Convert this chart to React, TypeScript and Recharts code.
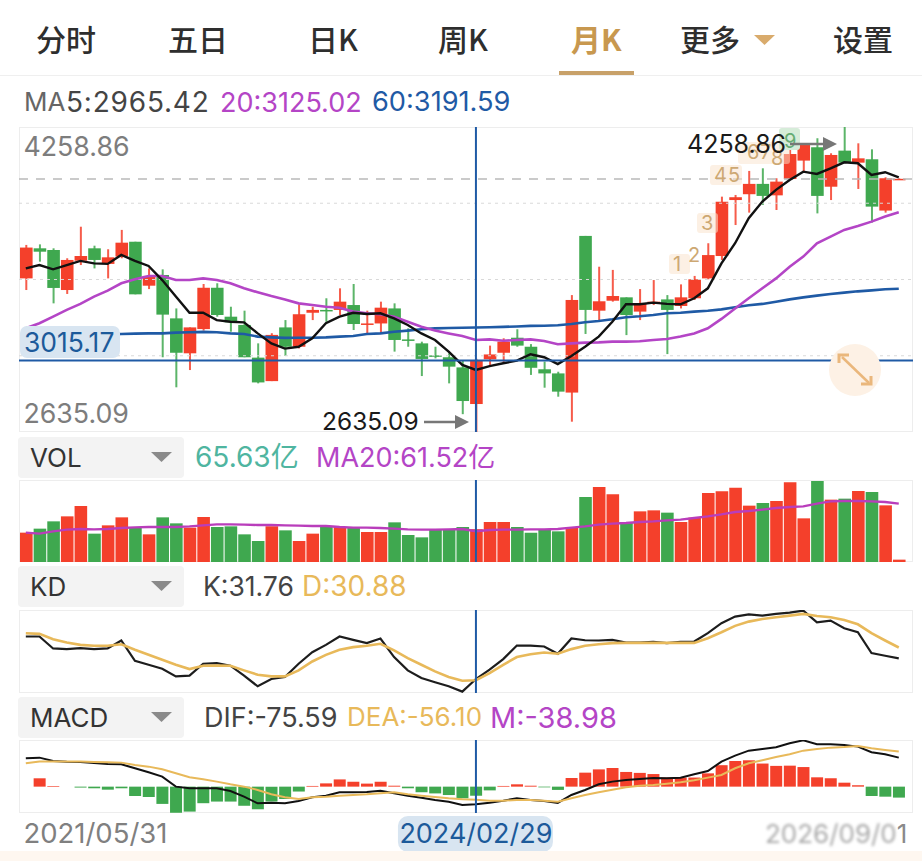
import React from "react";
import { Bar, Cell, ComposedChart, Line, ReferenceLine, XAxis, YAxis } from "recharts";

const UP = "#f4402b";
const DOWN = "#3fa84f";
const MAGENTA = "#b445c6";
const BLUE = "#1f5aa5";
const GOLD = "#e8b95a";
const TAN = "#cda873";
const LATIN = "Inter, 'Noto Sans CJK SC', sans-serif";
const CJK = "'Noto Sans CJK SC', sans-serif";

const dates = [
  "2021/05/31", "2021/06/30", "2021/07/30", "2021/08/31", "2021/09/30", "2021/10/29", "2021/11/30", "2021/12/31",
  "2022/01/28", "2022/02/28", "2022/03/31", "2022/04/29", "2022/05/31", "2022/06/30", "2022/07/29", "2022/08/31",
  "2022/09/30", "2022/10/31", "2022/11/30", "2022/12/30", "2023/01/31", "2023/02/28", "2023/03/31", "2023/04/28",
  "2023/05/31", "2023/06/30", "2023/07/31", "2023/08/31", "2023/09/28", "2023/10/31", "2023/11/30", "2023/12/29",
  "2024/01/31", "2024/02/29", "2024/03/29", "2024/04/30", "2024/05/31", "2024/06/28", "2024/07/31", "2024/08/30",
  "2024/09/30", "2024/10/31", "2024/11/29", "2024/12/31", "2025/01/27", "2025/02/28", "2025/03/31", "2025/04/30",
  "2025/05/30", "2025/06/30", "2025/07/31", "2025/08/29", "2025/09/30", "2025/10/31", "2025/11/28", "2025/12/31",
  "2026/01/30", "2026/02/27", "2026/03/31", "2026/04/30", "2026/05/29", "2026/06/30", "2026/07/31", "2026/08/31",
  "2026/09/01",
];

const opens = [
  3453, 3613, 3604, 3391, 3547, 3613, 3530, 3569, 3648, 3414,
  3471, 3240, 3054, 3183, 3403, 3249, 3205, 3031, 2906, 3192,
  3089, 3270, 3285, 3285, 3311, 3208, 3213, 3293, 3128, 3107,
  3043, 3033, 2979, 2784, 3022, 3057, 3137, 3089, 2969, 2947,
  2845, 3679, 3281, 3334, 3352, 3276, 3317, 3341, 3306, 3347,
  3453, 3572, 3870, 3901, 3956, 3895, 3982, 4080, 4151, 3941,
  4133, 4069, 4087, 3814, 3982,
];
const closes = [
  3617, 3595, 3402, 3551, 3572, 3551, 3565, 3643, 3368, 3466,
  3260, 3057, 3192, 3403, 3258, 3219, 3033, 2899, 3152, 3089,
  3262, 3285, 3279, 3329, 3210, 3213, 3297, 3125, 3121, 3024,
  3038, 2983, 2800, 3018, 3048, 3116, 3095, 2977, 2947, 2850,
  3338, 3285, 3331, 3359, 3258, 3317, 3329, 3285, 3352, 3448,
  3577, 3861, 3885, 3956, 3892, 3968, 4115, 4163, 3892, 4110,
  4069, 4092, 3835, 3986, 3983,
];
const highs = [
  3631, 3634, 3613, 3560, 3728, 3627, 3608, 3711, 3648, 3506,
  3501, 3293, 3192, 3423, 3427, 3302, 3281, 3107, 3161, 3231,
  3315, 3302, 3347, 3400, 3423, 3281, 3329, 3320, 3187, 3116,
  3089, 3054, 3018, 3025, 3095, 3134, 3182, 3103, 3010, 2956,
  3364, 3679, 3515, 3498, 3352, 3396, 3444, 3364, 3421, 3466,
  3640, 3888, 3897, 4025, 4039, 3986, 4154, 4163, 4199, 4119,
  4258.86, 4172, 4140, 3991, 3985,
];
const lows = [
  3391, 3542, 3320, 3370, 3524, 3506, 3453, 3560, 3368, 3396,
  3033, 2873, 2965, 3175, 3249, 3169, 3033, 2894, 2906, 3040,
  3080, 3231, 3222, 3258, 3178, 3157, 3160, 3063, 3089, 2933,
  3027, 2894, 2730, 2635.09, 2992, 2999, 3089, 2939, 2871, 2823,
  2690, 3157, 3231, 3329, 3151, 3231, 3311, 3050, 3293, 3338,
  3448, 3551, 3737, 3803, 3844, 3817, 3977, 4021, 3799, 3870,
  4066, 3929, 3750, 3803, 3979,
];

const ma5 = [
  3506, 3524, 3501, 3524, 3546, 3533, 3530, 3578, 3546, 3519,
  3444, 3356, 3270, 3270, 3231, 3222, 3219, 3160, 3107, 3079,
  3089, 3134, 3214, 3249, 3270, 3263, 3267, 3240, 3205, 3160,
  3125, 3063, 2992, 2965.42, 2986, 3001, 3015, 3049, 3033, 2997,
  3040, 3089, 3143, 3222, 3315, 3315, 3324, 3317, 3315, 3347,
  3400, 3533, 3640, 3773, 3862, 3924, 3977, 4021, 4009, 4039,
  4071, 4066, 4004, 4018, 3991,
];
const ma20 = [
  3187, 3214, 3249, 3285, 3317, 3356, 3388, 3427, 3448, 3466,
  3466, 3444, 3444, 3453, 3444, 3427, 3400, 3379, 3359, 3341,
  3320, 3311, 3302, 3297, 3276, 3267, 3262, 3249, 3222, 3196,
  3175, 3160, 3146, 3125.02, 3128, 3121, 3125, 3128, 3120, 3102,
  3107, 3111, 3112, 3116, 3116, 3118, 3125, 3130, 3143, 3160,
  3187, 3237, 3293, 3347, 3400, 3453, 3515, 3569, 3640, 3675,
  3711, 3732, 3755, 3782, 3805,
];
const ma60 = [
  3152, 3152, 3152, 3153, 3153, 3155, 3155, 3157, 3159, 3160,
  3160, 3164, 3166, 3168, 3166, 3160, 3157, 3143, 3139, 3136,
  3137, 3137, 3139, 3143, 3146, 3157, 3160, 3169, 3175, 3182,
  3187, 3189, 3190, 3191.59, 3193, 3195, 3197, 3200, 3201, 3203,
  3210, 3219, 3226, 3235, 3246, 3251, 3258, 3267, 3270, 3276,
  3281, 3288, 3299, 3310, 3317, 3329, 3341, 3352, 3361, 3370,
  3377, 3384, 3389, 3395, 3398,
];

const volumes = [
  58.7, 66.7, 81.3, 91.3, 112, 56.7, 73.3, 89.3, 70, 55.3,
  89.3, 77.3, 68.7, 90, 70, 71.3, 55.3, 42, 71.3, 63.3,
  42, 56.7, 72, 70, 68.7, 60, 60, 79.3, 54, 49.3,
  64.7, 64.7, 70, 65.63, 80, 80, 70, 58.7, 64.7, 61.3,
  70, 130, 150, 135.3, 80, 101.3, 103.3, 98.7, 80, 88.7,
  138, 141.3, 148.7, 112.7, 118, 122, 159.3, 87.3, 162, 124.7,
  126.7, 142, 140, 113.3, 4.7,
];
const volMa20 = [
  58.7, 56.7, 61.3, 64.7, 66, 65.3, 66, 68, 69.3, 70,
  70, 70, 71.3, 73.3, 75.3, 75.3, 74.7, 74, 74, 73.3,
  72.7, 72, 72, 70, 68.7, 68.7, 68, 66.7, 65.3, 64.7,
  64.7, 65.3, 66, 61.52, 64, 64.7, 64.7, 65.3, 65.3, 66,
  68.7, 71.3, 74.7, 76.7, 78, 80, 81.3, 83.3, 84.7, 88,
  91.3, 95.3, 100, 102, 104.7, 108, 110, 111.3, 116.7, 121.3,
  122, 122, 121.3, 120, 116.7,
];

const kLine = [
  63.8, 63.8, 54.8, 54.3, 55, 54.3, 54.8, 60.8, 45.5, 42.5,
  39.5, 33.8, 34.3, 43.3, 43.8, 41.8, 34.3, 26.3, 31.8, 33.3,
  43.3, 52, 57.5, 63.8, 61.3, 58.8, 62.3, 48.3, 38.3, 32.5,
  29.3, 26.3, 22.3, 31.76, 38.8, 46.8, 57, 57, 56.3, 50.8,
  62.3, 61, 60.8, 61.3, 59.3, 59.3, 59.8, 58.8, 59.8, 60,
  66.3, 73.8, 78.8, 80.5, 79.5, 80.8, 81.8, 83.3, 74.5, 75.8,
  70, 67, 51.3, 49.3, 47.3,
];
const dLine = [
  66.3, 65.8, 61.8, 59.3, 57.5, 56.8, 56.8, 58, 53.8, 50,
  46.3, 42.5, 39.3, 41.8, 42, 41.8, 38.3, 35, 33.8, 33.8,
  38.3, 45, 50, 53.8, 55.8, 56.8, 58.3, 53.3, 47.5, 42.5,
  37.5, 33.3, 30.5, 30.88, 36.3, 42.5, 48.3, 50.5, 51.8, 50.8,
  54.3, 56.8, 58, 58.8, 59, 59, 59, 59, 59, 59,
  62.5, 67, 71.8, 75, 77, 78.3, 79.5, 80.8, 79.3, 78.3,
  76.3, 73, 66.3, 60.8, 55.5,
];

const dif = [
  121.6, 124.4, 110, 107, 105.8, 101.5, 97.2, 95.8, 78.7, 61.5,
  42.9, 0, -7, -7, -7, -18.6, -42.9, -71.5, -68.6, -71.5,
  -61.5, -45.8, -38.6, -24.3, -24.3, -22.9, -17.2, -28.6, -38.6, -47.2,
  -57.2, -64.4, -78.7, -75.59, -68.6, -60.1, -50, -57.2, -61.5, -70,
  -35.8, -14.3, 10, 21.5, 28.6, 32.9, 37.2, 35.8, 38.6, 52.9,
  67.2, 107.3, 133, 154.4, 161.6, 168.7, 185.9, 198.8, 181.6, 181.6,
  178.8, 171.6, 147.3, 138.7, 124.4,
];
const dea = [
  100, 107.3, 107.3, 107.3, 107.3, 105.8, 104.4, 103, 93, 85.8,
  74.4, 57.2, 40, 31.5, 21.5, 10, 0, -14.3, -32.9, -45.8,
  -52.9, -45.8, -42.9, -38.6, -35.8, -32.9, -28.6, -24.3, -32.9, -38.6,
  -44.3, -50, -54.3, -56.1, -60.1, -60.1, -57.2, -57.2, -60.1, -64.4,
  -50, -35.8, -24.3, -12.9, -2.9, 4.3, 7.2, 12.9, 18.6, 27.2,
  38.6, 50, 78.7, 100, 113, 127.3, 138.7, 154.4, 161.6, 167.3,
  170.2, 174.5, 164.5, 157.3, 150.2,
];
const macd = [
  0, 35.8, 2.9, 0, -4, -7, -13, -7, -40, -44,
  -74, -112, -107, -71, -64, -64, -82, -97, -64, -53,
  -21, 3, 14, 31, 21, 13, 21, 4, -7, -24,
  -29, -36, -50, -38.98, -16, 3, 10, 4, -3, -14,
  37, 60, 74, 80, 63, 59, 54, 39, 39, 39,
  57, 92, 110, 113, 99, 89, 90, 84, 40, 36,
  17, 6, -40, -43, -47,
];

const rows = dates.map((date, i) => ({
  date,
  open: opens[i],
  close: closes[i],
  range: [lows[i], highs[i]],
  ma5: ma5[i],
  ma20: ma20[i],
  ma60: ma60[i],
  vol: volumes[i],
  volMa: volMa20[i],
  k: kLine[i],
  d: dLine[i],
  dif: dif[i],
  dea: dea[i],
  macd: macd[i],
}));

const PRICE_LOW = 2635.09;
const PRICE_HIGH = 4258.86;
const CROSS = dates[33];
const CHART_LEFT = 18.6;
const CHART_W = 894.4;
const SLOT_PAD = { left: 0, right: 7.8 };

function Candle(props: any) {
  const { x, y, width, height, payload } = props;
  const [low, high] = payload.range;
  const perUnit = height / (high - low);
  const top = y + (high - Math.max(payload.open, payload.close)) * perUnit;
  const bottom = y + (high - Math.min(payload.open, payload.close)) * perUnit;
  const fill = payload.close >= payload.open ? UP : DOWN;
  return (
    <g>
      <rect x={x + width / 2 - 1} y={y} width={2} height={height} fill={fill} opacity={0.85} />
      <rect x={x} y={top} width={width} height={Math.max(bottom - top, 1.5)} fill={fill} />
    </g>
  );
}

function PriceTick({ y, payload }: any) {
  const isHigh = Math.abs(payload.value - PRICE_HIGH) < 0.01;
  return (
    <text x={4.4} y={isHigh ? y + 29 : y - 9} fontSize={26.8} fontFamily={LATIN} fill="#7d7d7d">
      {Number(payload.value).toFixed(2)}
    </text>
  );
}

function DateTick({ x, payload }: any) {
  const y = 103;
  if (payload.value === CROSS) {
    return (
      <g>
        <rect x={x - 78} y={76} width={155} height={36} rx={10} fill="#d8e5f1" />
        <text x={x} y={y} textAnchor="middle" fontSize={27} fontFamily={LATIN} fill="#1c5a9a">
          {payload.value}
        </text>
      </g>
    );
  }
  if (payload.value === dates[0]) {
    return (
      <text x={4.4} y={y} fontSize={27.5} fontFamily={LATIN} fill="#808080">
        {payload.value}
      </text>
    );
  }
  return (
    <g>
      <text x={x - 2} y={y} textAnchor="end" fontSize={26} fontFamily={LATIN} fill="#a8a8a8" style={{ filter: "blur(1.6px)" }}>
        {payload.value.slice(0, -1)}
      </text>
      <text x={x - 2} y={y} fontSize={26} fontFamily={LATIN} fill="#8a8a8a">
        {payload.value.slice(-1)}
      </text>
    </g>
  );
}

function Label({ x, y, color, size = 27, font = LATIN, weight = 400, spacing = 0, children }: any) {
  return (
    <div
      style={{
        position: "absolute",
        left: x,
        top: y,
        transform: "translateY(-50%)",
        color,
        fontSize: size,
        fontFamily: font,
        fontWeight: weight,
        letterSpacing: spacing,
        whiteSpace: "nowrap",
        lineHeight: 1,
      }}
    >
      {children}
    </div>
  );
}

function Box({ x, y, w, h, bg, radius = 3 }: any) {
  return <div style={{ position: "absolute", left: x, top: y, width: w, height: h, background: bg, borderRadius: radius }} />;
}

function Panel({ top, height, children, extra = 0 }: any) {
  return (
    <>
      <div
        style={{
          position: "absolute",
          left: 19,
          top,
          width: 894,
          height,
          boxSizing: "border-box",
          border: "1px solid #ededed",
        }}
      />
      <div style={{ position: "absolute", left: CHART_LEFT, top, width: CHART_W, height: height + extra }}>{children}</div>
    </>
  );
}

function Selector({ top, name }: any) {
  return (
    <>
      <Box x={18} y={top} w={166} h={41} bg="#f3f3f3" radius={4} />
      <Label x={30} y={top + 21} color="#333" size={26}>
        {name}
      </Label>
      <svg style={{ position: "absolute", left: 151, top: top + 15 }} width={22} height={11}>
        <polygon points="0,0 21,0 10.5,10" fill="#8a8a8a" />
      </svg>
    </>
  );
}

const tabs = [
  { name: "分时", x: 36 },
  { name: "五日", x: 168 },
  { name: "日K", x: 308 },
  { name: "周K", x: 438 },
  { name: "更多", x: 680 },
  { name: "设置", x: 833 },
];

export default function App() {
  return (
    <div style={{ position: "fixed", left: 0, top: 0, width: 922, height: 861, background: "#fff", overflow: "hidden" }}>
      {tabs.map((t) => (
        <Label key={t.name} x={t.x} y={38} color="#2e2e2e" size={30} font={CJK} weight={500}>
          {t.name}
        </Label>
      ))}
      <Label x={571} y={38} color="#c8984f" size={30} font={CJK} weight={700}>
        月K
      </Label>
      <Box x={559} y={71} w={75} h={4} bg="#c8a169" radius={0} />
      <Box x={0} y={75} w={922} h={1} bg="#efefef" radius={0} />
      <svg style={{ position: "absolute", left: 754, top: 35 }} width={22} height={11}>
        <polygon points="0,0 21,0 10.5,10" fill="#d9ab6c" />
      </svg>

      <Label x={24} y={102} color="#666" size={26}>MA</Label>
      <Label x={66} y={102} color="#444" size={28} spacing={0.8}>5:2965.42</Label>
      <Label x={220} y={102} color={MAGENTA} size={27}>20:3125.02</Label>
      <Label x={372} y={102} color={BLUE} size={27.2}>60:3191.59</Label>

      <Panel top={127} height={305}>
        <ComposedChart width={CHART_W} height={305} data={rows} margin={{ top: 0, right: 0, bottom: 0, left: 0 }}>
          <XAxis dataKey="date" hide padding={SLOT_PAD} />
          <YAxis
            mirror
            width={60}
            domain={[PRICE_LOW, PRICE_HIGH]}
            ticks={[PRICE_LOW, PRICE_HIGH]}
            interval={0}
            axisLine={false}
            tickLine={false}
            tick={PriceTick}
          />
          <ReferenceLine y={3853} stroke="#d9d9d9" strokeWidth={1} strokeDasharray="3 4" />
          <ReferenceLine y={3447} stroke="#d9d9d9" strokeWidth={1} strokeDasharray="3 4" />
          <ReferenceLine y={3041} stroke="#d9d9d9" strokeWidth={1} strokeDasharray="3 4" />
          <ReferenceLine y={3982} stroke="#b9b9b9" strokeWidth={1.5} strokeDasharray="9 8" />
          <Bar dataKey="range" barSize={12.6} shape={Candle} isAnimationActive={false} />
          <Line dataKey="ma60" stroke={BLUE} strokeWidth={2.6} dot={false} isAnimationActive={false} />
          <Line dataKey="ma20" stroke={MAGENTA} strokeWidth={2.6} dot={false} isAnimationActive={false} />
          <Line dataKey="ma5" stroke="#111" strokeWidth={2.4} dot={false} isAnimationActive={false} />
          <ReferenceLine y={3015.17} stroke={BLUE} strokeWidth={2} />
          <ReferenceLine x={CROSS} stroke={BLUE} strokeWidth={2} />
        </ComposedChart>
      </Panel>

      <Box x={20} y={326} w={100} h={32} bg="#d8e5f1" radius={7} />
      <Label x={24} y={342} color="#1c5a9a" size={26.5}>3015.17</Label>

      <Box x={669} y={254} w={21} h={20} bg="rgba(250,228,205,0.55)" />
      <Label x={673} y={264} color={TAN} size={20}>1</Label>
      <Label x={688} y={255} color={TAN} size={20}>2</Label>
      <Box x={697} y={213} w={21} h={20} bg="rgba(250,228,205,0.55)" />
      <Label x={701} y={223} color={TAN} size={20}>3</Label>
      <Box x={710} y={165} w={32} h={20} bg="rgba(250,228,205,0.55)" />
      <Label x={714} y={175} color={TAN} size={20}>4</Label>
      <Label x={728} y={175} color={TAN} size={20}>5</Label>
      <Box x={738} y={142} w={52} h={22} bg="rgba(250,228,205,0.5)" />
      <Label x={747} y={152} color={TAN} size={20}>6</Label>
      <Label x={760} y={152} color={TAN} size={20}>7</Label>
      <Label x={771} y={158} color={TAN} size={20}>8</Label>
      <Box x={779} y={128} w={21} h={22} bg="#d6ecd9" />
      <Label x={784} y={141} color="#66ad74" size={20}>9</Label>

      <Label x={687} y={144} color="#1a1a1a" size={25}>4258.86</Label>
      <Label x={322} y={421} color="#1a1a1a" size={24.5}>2635.09</Label>

      <svg style={{ position: "absolute", left: 0, top: 0 }} width={922} height={480}>
        <line x1={790} y1={144} x2={826} y2={144} stroke="#777" strokeWidth={2.5} />
        <polygon points="823,137 837,144 823,151" fill="#777" />
        <line x1={424} y1={422} x2={458} y2={422} stroke="#777" strokeWidth={2.5} />
        <polygon points="455,415 469,422 455,429" fill="#777" />
        <circle cx={855} cy={370} r={26} fill="#fdf1e5" />
        <line x1={842} y1={357} x2={869} y2={383} stroke="#eab77c" strokeWidth={2.5} />
        <polyline points="839,363 839,355 849,355" fill="none" stroke="#eab77c" strokeWidth={3} />
        <polyline points="871,376 871,384 861,384" fill="none" stroke="#eab77c" strokeWidth={3} />
      </svg>

      <Selector top={437} name="VOL" />
      <Label x={195} y={457} color="#4fb5a0" size={28}>65.63亿</Label>
      <Label x={316} y={457} color={MAGENTA} size={27}>MA20:61.52亿</Label>

      <Panel top={480} height={82}>
        <ComposedChart width={CHART_W} height={82} data={rows} margin={{ top: 0, right: 0, bottom: 0, left: 0 }}>
          <XAxis dataKey="date" hide padding={SLOT_PAD} />
          <YAxis hide domain={[0, 164]} />
          <Bar dataKey="vol" barSize={12.6} isAnimationActive={false}>
            {rows.map((r) => (
              <Cell key={r.date} fill={r.close >= r.open ? UP : DOWN} />
            ))}
          </Bar>
          <Line dataKey="volMa" stroke="#b93dbb" strokeWidth={2.4} dot={false} isAnimationActive={false} />
          <ReferenceLine x={CROSS} stroke={BLUE} strokeWidth={2} />
        </ComposedChart>
      </Panel>

      <Selector top={566} name="KD" />
      <Label x={203} y={586} color="#444" size={26.5}>K:31.76</Label>
      <Label x={302} y={586} color={GOLD} size={28}>D:30.88</Label>

      <Panel top={610} height={83}>
        <ComposedChart width={CHART_W} height={83} data={rows} margin={{ top: 0, right: 0, bottom: 0, left: 0 }}>
          <XAxis dataKey="date" hide scale="band" padding={SLOT_PAD} />
          <YAxis hide domain={[21.26, 83.76]} />
          <Line dataKey="k" stroke="#1d1d1d" strokeWidth={2.2} dot={false} isAnimationActive={false} />
          <Line dataKey="d" stroke={GOLD} strokeWidth={2.6} dot={false} isAnimationActive={false} />
          <ReferenceLine x={CROSS} stroke={BLUE} strokeWidth={2} />
        </ComposedChart>
      </Panel>

      <Selector top={697} name="MACD" />
      <Label x={204} y={717} color="#444" size={27}>DIF:-75.59</Label>
      <Label x={347} y={717} color={GOLD} size={26}>DEA:-56.10</Label>
      <Label x={490} y={717} color={MAGENTA} size={29}>M:-38.98</Label>

      <Panel top={740} height={73} extra={48}>
        <ComposedChart width={CHART_W} height={121} data={rows} margin={{ top: 0, right: 0, bottom: 0, left: 0 }}>
          <XAxis
            dataKey="date"
            height={48}
            padding={SLOT_PAD}
            axisLine={false}
            tickLine={false}
            interval={0}
            ticks={[dates[0], CROSS, dates[64]]}
            tick={DateTick}
          />
          <YAxis hide domain={[-113, 200]} />
          <Bar dataKey="macd" barSize={12} isAnimationActive={false}>
            {rows.map((r) => (
              <Cell key={r.date} fill={r.macd >= 0 ? UP : DOWN} />
            ))}
          </Bar>
          <Line dataKey="dif" stroke="#111" strokeWidth={2} dot={false} isAnimationActive={false} />
          <Line dataKey="dea" stroke={GOLD} strokeWidth={2} dot={false} isAnimationActive={false} />
          <ReferenceLine x={CROSS} stroke={BLUE} strokeWidth={2} />
        </ComposedChart>
      </Panel>

      <Box x={0} y={851} w={922} h={10} bg="#fef7f0" radius={0} />
    </div>
  );
}
